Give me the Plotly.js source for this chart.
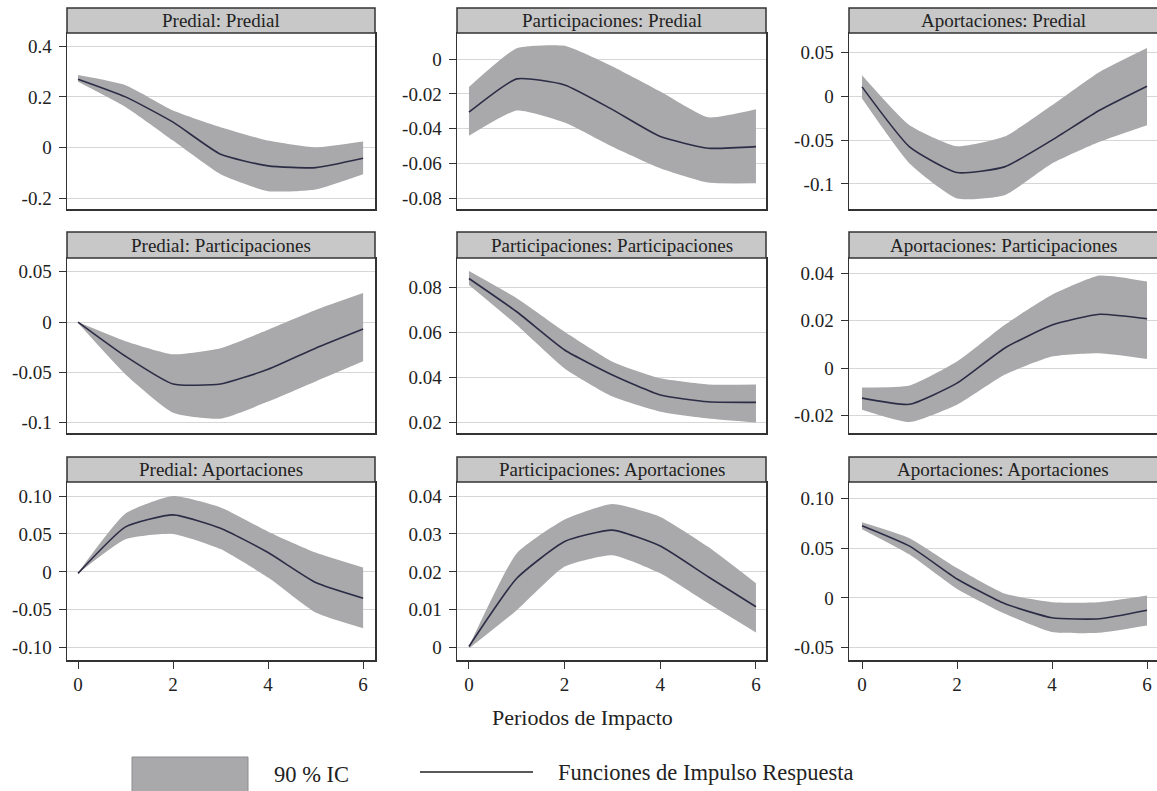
<!DOCTYPE html>
<html><head><meta charset="utf-8">
<script src="https://cdn.plot.ly/plotly-3.0.1.min.js"></script>
<style>html,body{margin:0;padding:0;background:#fff}#chart{width:1157px;height:791px}</style>
</head><body><div id="chart"></div>
<script>
// ---------- DATA ----------
const periods = [0, 1, 2, 3, 4, 5, 6];
const xTickVals = [0, 2, 4, 6];
const xTickText = ['0', '2', '4', '6'];
const xTitle = 'Periodos de Impacto';
const legendBand = '90 % IC';
const legendLine = 'Funciones de Impulso Respuesta';

const panelTitles = [
  'Predial: Predial', 'Participaciones: Predial', 'Aportaciones: Predial',
  'Predial: Participaciones', 'Participaciones: Participaciones', 'Aportaciones: Participaciones',
  'Predial: Aportaciones', 'Participaciones: Aportaciones', 'Aportaciones: Aportaciones'
];

const predialPredial_irf = [0.27, 0.20, 0.10, -0.027, -0.073, -0.08, -0.043];
const predialPredial_hi  = [0.286, 0.246, 0.146, 0.08, 0.027, 0.0, 0.023];
const predialPredial_lo  = [0.26, 0.16, 0.027, -0.106, -0.173, -0.166, -0.106];

const particPredial_irf = [-0.0305, -0.0113, -0.0148, -0.029, -0.0445, -0.0512, -0.0503];
const particPredial_hi  = [-0.016, 0.0063, 0.0077, -0.0042, -0.0186, -0.0334, -0.0288];
const particPredial_lo  = [-0.0441, -0.0295, -0.0364, -0.0503, -0.0627, -0.071, -0.0714];

const aportPredial_irf = [0.0106, -0.0577, -0.087, -0.0805, -0.050, -0.016, 0.0114];
const aportPredial_hi  = [0.024, -0.033, -0.057, -0.046, -0.0103, 0.0277, 0.055];
const aportPredial_lo  = [-0.0027, -0.0767, -0.1166, -0.1128, -0.0767, -0.052, -0.033];

const predialPartic_irf = [0, -0.034, -0.0616, -0.0616, -0.047, -0.026, -0.007];
const predialPartic_hi  = [0, -0.019, -0.032, -0.026, -0.0076, 0.012, 0.0288];
const predialPartic_lo  = [-0.001, -0.052, -0.090, -0.096, -0.079, -0.059, -0.039];

const particPartic_irf = [0.0841, 0.0693, 0.0523, 0.0412, 0.0323, 0.0293, 0.029];
const particPartic_hi  = [0.0874, 0.0753, 0.0604, 0.0471, 0.0397, 0.037, 0.037];
const particPartic_lo  = [0.0812, 0.0634, 0.0441, 0.0316, 0.0249, 0.0219, 0.0201];

const aportPartic_irf = [-0.0126, -0.0152, -0.0063, 0.0084, 0.0182, 0.0227, 0.0208];
const aportPartic_hi  = [-0.0081, -0.0073, 0.0028, 0.0182, 0.0309, 0.039, 0.0365];
const aportPartic_lo  = [-0.0175, -0.0227, -0.0154, -0.0028, 0.0049, 0.0063, 0.0039];

const predialAport_irf = [-0.002, 0.0593, 0.0752, 0.0576, 0.0255, -0.014, -0.0347];
const predialAport_hi  = [-0.001, 0.077, 0.100, 0.085, 0.053, 0.0255, 0.0057];
const predialAport_lo  = [-0.002, 0.043, 0.050, 0.030, -0.0075, -0.0536, -0.0743];

const particAport_irf = [0.0003, 0.0183, 0.028, 0.031, 0.0268, 0.0187, 0.0108];
const particAport_hi  = [0.0003, 0.0249, 0.0338, 0.0379, 0.0345, 0.0266, 0.017];
const particAport_lo  = [-0.0002, 0.0099, 0.0214, 0.0244, 0.0196, 0.0117, 0.004];

const aportAport_irf = [0.0725, 0.052, 0.019, -0.0057, -0.020, -0.021, -0.0124];
const aportAport_hi  = [0.076, 0.060, 0.030, 0.0043, -0.0043, -0.0043, 0.0023];
const aportAport_lo  = [0.069, 0.0435, 0.009, -0.0157, -0.0343, -0.035, -0.0277];

const yTickVals = [
  [-0.2, 0, 0.2, 0.4], [-0.08, -0.06, -0.04, -0.02, 0], [-0.1, -0.05, 0, 0.05],
  [-0.1, -0.05, 0, 0.05], [0.02, 0.04, 0.06, 0.08], [-0.02, 0, 0.02, 0.04],
  [-0.1, -0.05, 0, 0.05, 0.1], [0, 0.01, 0.02, 0.03, 0.04], [-0.05, 0, 0.05, 0.1]
];
const yTickText = [
  ['-0.2', '0', '0.2', '0.4'], ['-0.08', '-0.06', '-0.04', '-0.02', '0'], ['-0.1', '-0.05', '0', '0.05'],
  ['-0.1', '-0.05', '0', '0.05'], ['0.02', '0.04', '0.06', '0.08'], ['-0.02', '0', '0.02', '0.04'],
  ['-0.10', '-0.05', '0', '0.05', '0.10'], ['0', '0.01', '0.02', '0.03', '0.04'], ['-0.05', '0', '0.05', '0.10']
];

// ---------- LAYOUT GEOMETRY (pixels) ----------
const W = 1157, H = 791;
const colLeft = [67, 457, 849], colRight = [375, 766, 1157];
const stripTop = [8, 232, 457], stripBottom = [33, 258, 482], plotBottom = [209, 433, 660];
const xRanges = [[-0.232, 6.25], [-0.25, 6.21], [-0.274, 6.21]];
const yRanges = [
  [-0.2435, 0.4526], [-0.0862, 0.0151], [-0.1285, 0.072],
  [-0.1102, 0.0636], [0.0154, 0.0932], [-0.0273, 0.0464],
  [-0.1162, 0.1185], [-0.00325, 0.0437], [-0.0624, 0.1164]
];

const panels = [
  [predialPredial_irf, predialPredial_hi, predialPredial_lo],
  [particPredial_irf, particPredial_hi, particPredial_lo],
  [aportPredial_irf, aportPredial_hi, aportPredial_lo],
  [predialPartic_irf, predialPartic_hi, predialPartic_lo],
  [particPartic_irf, particPartic_hi, particPartic_lo],
  [aportPartic_irf, aportPartic_hi, aportPartic_lo],
  [predialAport_irf, predialAport_hi, predialAport_lo],
  [particAport_irf, particAport_hi, particAport_lo],
  [aportAport_irf, aportAport_hi, aportAport_lo]
];

const px = v => v / W;
const py = v => 1 - v / H;
const FONT = 'Liberation Serif';
const BAND = '#a9a9ab', LINE = '#2c2c46', BORDER = '#333333', STRIP = '#c8c8c8', GRID = '#d6d6d6';
const SMOOTH = 0.5;

const data = [], shapes = [], annotations = [];
const layout = {
  width: W, height: H, margin: {l: 0, r: 0, t: 0, b: 0},
  paper_bgcolor: '#ffffff', plot_bgcolor: '#ffffff', showlegend: false,
  font: {family: FONT, size: 18, color: '#222222'}
};

panels.forEach((p, i) => {
  const r = Math.floor(i / 3), c = i % 3, n = i + 1;
  const xa = 'x' + (n === 1 ? '' : n), ya = 'y' + (n === 1 ? '' : n);
  const [irf, hi, lo] = p;
  data.push({
    x: periods, y: lo, xaxis: xa, yaxis: ya, type: 'scatter', mode: 'lines',
    line: {width: 0, color: BAND, shape: 'spline', smoothing: SMOOTH}, hoverinfo: 'skip'
  });
  data.push({
    x: periods, y: hi, xaxis: xa, yaxis: ya, type: 'scatter', mode: 'lines',
    fill: 'tonexty', fillcolor: BAND,
    line: {width: 0, color: BAND, shape: 'spline', smoothing: SMOOTH}, hoverinfo: 'skip'
  });
  data.push({
    x: periods, y: irf, xaxis: xa, yaxis: ya, type: 'scatter', mode: 'lines',
    line: {color: LINE, width: 1.6, shape: 'spline', smoothing: SMOOTH}
  });
  const bottomRow = r === 2;
  layout['xaxis' + (n === 1 ? '' : n)] = {
    domain: [px(colLeft[c]), px(colRight[c])], range: xRanges[c],
    anchor: ya, showgrid: false, zeroline: false,
    showline: true, mirror: true, linecolor: BORDER, linewidth: 1.5,
    tickmode: 'array', tickvals: xTickVals, ticktext: xTickText,
    showticklabels: bottomRow, ticks: bottomRow ? 'outside' : '',
    ticklen: 7, tickcolor: BORDER, tickwidth: 1,
    tickfont: {family: FONT, size: 19, color: '#222'}
  };
  layout['yaxis' + (n === 1 ? '' : n)] = {
    domain: [py(plotBottom[r]), py(stripBottom[r])], range: yRanges[i],
    anchor: xa, showgrid: true, gridcolor: GRID, gridwidth: 1, zeroline: false,
    showline: true, mirror: c < 2, linecolor: BORDER, linewidth: 1.5,
    tickmode: 'array', tickvals: yTickVals[i], ticktext: yTickText[i],
    ticks: 'outside', ticklen: 7, tickcolor: BORDER, tickwidth: 1,
    ticklabelstandoff: 3,
    tickfont: {family: FONT, size: 19, color: '#222'}
  };
  shapes.push({
    type: 'rect', xref: 'paper', yref: 'paper',
    x0: px(colLeft[c]), x1: px(colRight[c]) + (c === 2 ? 0.01 : 0),
    y0: py(stripBottom[r]), y1: py(stripTop[r]),
    fillcolor: STRIP, line: {color: BORDER, width: 1.5}, layer: 'above'
  });
  annotations.push({
    xref: 'paper', yref: 'paper', x: px((colLeft[c] + colRight[c]) / 2),
    y: py((stripTop[r] + stripBottom[r]) / 2), text: panelTitles[i], showarrow: false,
    xanchor: 'center', yanchor: 'middle', font: {family: FONT, size: 19, color: '#222'}
  });
});

// axis title
annotations.push({
  xref: 'paper', yref: 'paper', x: px(582), y: py(717), text: xTitle, showarrow: false,
  xanchor: 'center', yanchor: 'middle', font: {family: FONT, size: 22, color: '#222'}
});
// legend
shapes.push({
  type: 'rect', xref: 'paper', yref: 'paper', x0: px(132), x1: px(248), y0: py(800), y1: py(757),
  fillcolor: BAND, line: {color: '#8c8c8e', width: 1}
});
shapes.push({
  type: 'line', xref: 'paper', yref: 'paper', x0: px(420), x1: px(533), y0: py(772), y1: py(772),
  line: {color: '#222', width: 1.5}
});
annotations.push({
  xref: 'paper', yref: 'paper', x: px(272), y: py(774), text: legendBand, showarrow: false,
  xanchor: 'left', yanchor: 'middle', font: {family: FONT, size: 22.5, color: '#222'}
});
annotations.push({
  xref: 'paper', yref: 'paper', x: px(556), y: py(772), text: legendLine, showarrow: false,
  xanchor: 'left', yanchor: 'middle', font: {family: FONT, size: 22.5, color: '#222'}
});

layout.shapes = shapes;
layout.annotations = annotations;

Plotly.newPlot('chart', data, layout, {displayModeBar: false, staticPlot: true});
</script>
</body></html>
